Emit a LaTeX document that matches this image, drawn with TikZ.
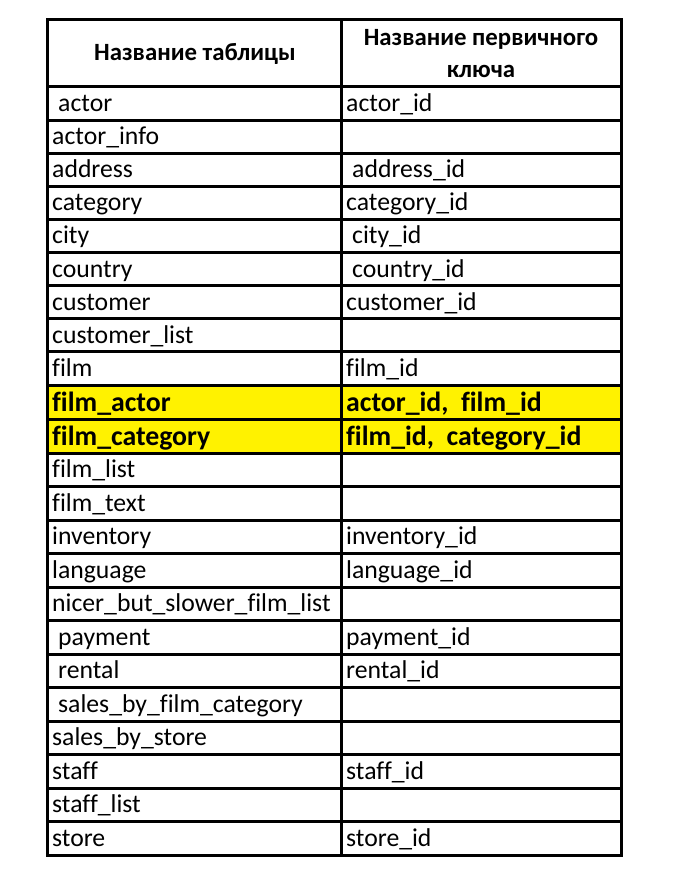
\documentclass[tikz,border=0pt]{standalone}
\usepackage{fontspec}
\setmainfont{Carlito}[Ligatures=NoCommon]
\begin{document}
\begin{tikzpicture}[x=1pt,y=-1pt,
    cell/.style={anchor=base west,inner sep=0pt,font=\fontsize{25.7}{30}\selectfont},
    keycell/.style={cell,font=\fontsize{27.8}{30}\selectfont\bfseries},
    head/.style={align=center,inner sep=0pt,font=\fontsize{24.8}{32}\selectfont\bfseries},
    grid/.style={line width=3pt}]
    \useasboundingbox (0,0) rectangle (693,877);
    % highlighted rows
    \fill[yellow] (47,385) rectangle (621,453);
    % header
    \node[head] (headtab) at (195,54) {Название таблицы};
    \node[head] (headkey) at (481,54) {Название первичного\\ключа};
    % plain rows: top / table / key / shift of table / shift of key
    \foreach \t/\a/\b/\xa/\xb [count=\i] in {
        87/actor/actor\_id/6/0,
        120.1/actor\_info//0/0,
        153.2/address/address\_id/0/6,
        186.3/category/category\_id/0/0,
        219.4/city/city\_id/0/6,
        252.5/country/country\_id/0/6,
        285.6/customer/customer\_id/0/0,
        318.7/customer\_list//0/0,
        351.8/film/film\_id/0/0,
        453/film\_list//0/0,
        486.5/film\_text//0/0,
        520/inventory/inventory\_id/0/0,
        553.5/language/language\_id/0/0,
        587/nicer\_but\_slower\_film\_list//0/0,
        620.5/payment/payment\_id/6/0,
        654/rental/rental\_id/6/0,
        687.5/sales\_by\_film\_category//6/0,
        721/sales\_by\_store//0/0,
        754.5/staff/staff\_id/0/0,
        788/staff\_list//0/0,
        821.5/store/store\_id/0/0}{
        \draw[grid] (47,\t) -- (621,\t);
        \node[cell] (tab\i) at (52+\xa,\t+24.5) {\a};
        \node[cell] (key\i) at (346+\xb,\t+24.5) {\b};
    }
    % rows with composite keys
    \foreach \t/\a/\b [count=\i] in {
        385/film\_actor/{actor\_id,\ \ film\_id},
        419/film\_category/{film\_id,\ \ category\_id}}{
        \draw[grid] (47,\t) -- (621,\t);
        \node[keycell] (comptab\i) at (52,\t+26) {\a};
        \node[keycell] (compkey\i) at (346,\t+26) {\b};
    }
    \draw[grid] (47,20) rectangle (621,855);
    \draw[grid] (341,20) -- (341,855);
\end{tikzpicture}
\end{document}
